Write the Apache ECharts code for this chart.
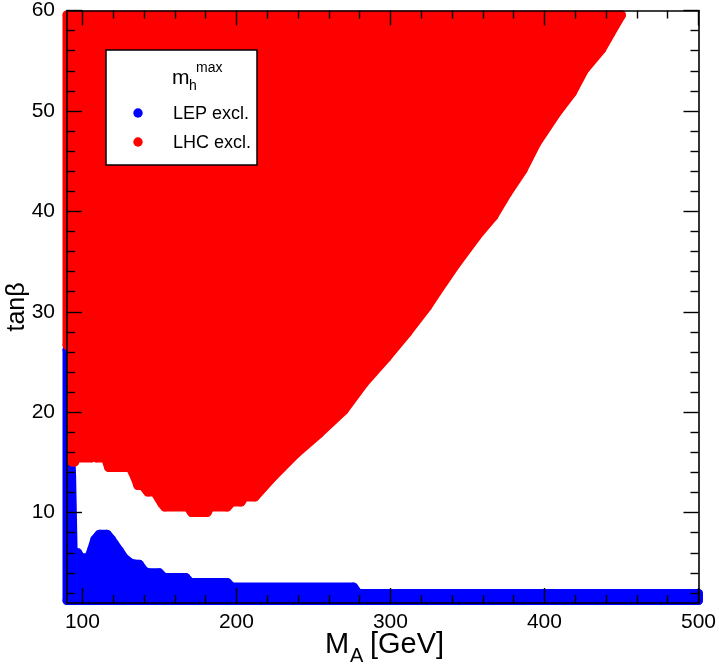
<!DOCTYPE html>
<html>
<head>
<meta charset="utf-8">
<script src="https://cdn.jsdelivr.net/npm/echarts@6/dist/echarts.min.js"></script>
<style>
  html, body { margin: 0; padding: 0; background: #fff; }
  #chart { width: 719px; height: 668px; }
</style>
</head>
<body>
<div id="chart"></div>
<script>
// LEP exclusion boundary (scan points on the edge, polygon order)
var lepX = [90, 90, 93, 94, 97, 99, 104, 106, 108, 111, 116, 119, 121, 124, 127, 131, 135, 137, 140, 143, 150, 153, 167, 170, 194, 197, 276, 279, 500, 500];
var lepY = [1.25, 26.2, 13.6, 6.0, 6.0, 5.5, 5.5, 6.3, 7.3, 7.85, 7.85, 7.3, 6.85, 6.2, 5.5, 5.0, 4.85, 4.85, 4.2, 4.0, 4.0, 3.55, 3.55, 3.05, 3.05, 2.6, 2.6, 1.95, 1.95, 1.25];

// LHC exclusion boundary (scan points on the edge, polygon order)
var lhcX = [90, 450, 443, 437, 426, 418, 408, 395, 386, 376, 367, 356, 343, 330, 324, 311, 298, 283, 270, 254, 239, 224, 212, 205, 203, 197, 194, 183, 181, 171, 168.5, 153.5, 151.6, 147, 142.5, 139, 136, 134, 131, 117, 115, 109, 107, 106, 96, 95, 93, 93, 90];
var lhcY = [59.55, 59.55, 57.7, 56.1, 54.1, 51.8, 49.8, 46.8, 44.1, 41.8, 39.5, 37.5, 34.8, 31.9, 30.5, 27.9, 25.5, 22.9, 20.2, 17.9, 15.9, 13.6, 11.55, 11.55, 11.05, 11.05, 10.55, 10.55, 10.0, 10.0, 10.55, 10.55, 10.9, 12.05, 12.05, 12.7, 12.7, 13.55, 14.5, 14.5, 15.45, 15.45, 15.9, 15.45, 15.45, 15.05, 15.05, 26.2, 26.7];

var xMajor = [100, 200, 300, 400, 500];
var xMinor = [120, 140, 160, 180, 220, 240, 260, 280, 320, 340, 360, 380, 420, 440, 460, 480];
var yMajor = [10, 20, 30, 40, 50, 60];
var yMinor = [2, 4, 6, 8, 12, 14, 16, 18, 22, 24, 26, 28, 32, 34, 36, 38, 42, 44, 46, 48, 52, 54, 56, 58];

var chart = echarts.init(document.getElementById('chart'));
var FONT = '"Liberation Sans", Arial, Helvetica, sans-serif';

function mkAxis(pos, min, max, ticks, len, labels, lineShow) {
  return {
    type: 'value', position: pos, min: min, max: max, z: 10,
    splitLine: { show: false },
    axisLine: { show: lineShow, onZero: false, lineStyle: { color: '#000', width: 1.6 } },
    axisTick: { show: true, inside: true, length: len, customValues: ticks, lineStyle: { color: '#000', width: 1.4 } },
    axisLabel: labels ? { show: true, customValues: ticks, color: '#000', fontSize: 21, fontFamily: FONT, margin: (pos === 'bottom' ? 9 : 12) } : { show: false }
  };
}

function polygonItem(xs, ys, color) {
  return function (params, api) {
    var pts = xs.map(function (x, i) { return api.coord([x, ys[i]]); });
    return {
      type: 'polygon',
      shape: { points: pts },
      style: { fill: color, stroke: color, lineWidth: 9, lineJoin: 'round' }
    };
  };
}

function dots(xs, ys) {
  return xs.map(function (x, i) { return [x, ys[i]]; });
}

function label(txt, x, y, size) {
  return { type: 'text', x: x, y: y, z: 21,
    style: { text: txt, font: size + 'px ' + FONT, fill: '#000', align: 'left', verticalAlign: 'middle' } };
}

chart.setOption({
  animation: false,
  backgroundColor: '#fff',
  grid: { left: 67, right: 20, top: 10, bottom: 65, containLabel: false },
  xAxis: [
    mkAxis('bottom', 90, 500, xMajor, 15, true, true),
    mkAxis('bottom', 90, 500, xMinor, 8, false, false),
    mkAxis('top', 90, 500, xMajor, 15, false, true),
    mkAxis('top', 90, 500, xMinor, 8, false, false)
  ],
  yAxis: [
    mkAxis('left', 1, 60, yMajor, 15, true, true),
    mkAxis('left', 1, 60, yMinor, 8, false, false),
    mkAxis('right', 1, 60, yMajor, 15, false, true),
    mkAxis('right', 1, 60, yMinor, 8, false, false)
  ],
  series: [
    {
      name: 'LEP excl.', type: 'custom', xAxisIndex: 0, yAxisIndex: 0, z: 2,
      renderItem: polygonItem(lepX, lepY, '#0000ff'),
      data: [[lepX[0], lepY[0]]]
    },
    {
      name: 'LEP excl. pts', type: 'scatter', xAxisIndex: 0, yAxisIndex: 0, z: 3,
      symbol: 'circle', symbolSize: 9, itemStyle: { color: '#0000ff' },
      data: dots(lepX, lepY)
    },
    {
      name: 'LHC excl.', type: 'custom', xAxisIndex: 0, yAxisIndex: 0, z: 4,
      renderItem: polygonItem(lhcX, lhcY, '#ff0000'),
      data: [[lhcX[0], lhcY[0]]]
    },
    {
      name: 'LHC excl. pts', type: 'scatter', xAxisIndex: 0, yAxisIndex: 0, z: 5,
      symbol: 'circle', symbolSize: 9, itemStyle: { color: '#ff0000' },
      data: dots(lhcX, lhcY)
    }
  ],
  graphic: [
    // y axis title
    { type: 'text', rotation: Math.PI / 2, x: 17, y: 307, z: 20,
      style: { text: 'tanβ', font: '25px ' + FONT, fill: '#000', align: 'center', verticalAlign: 'middle' } },
    // x axis title M_A [GeV]
    label('M', 325, 645, 29),
    label('A', 350, 656, 20),
    label('[GeV]', 370, 645, 29),
    // legend box
    { type: 'rect', z: 20, shape: { x: 106, y: 50, width: 151, height: 115 },
      style: { fill: '#fff', stroke: '#000', lineWidth: 1.5 } },
    label('m', 172, 78, 21),
    label('h', 189, 86, 14),
    label('max', 196, 68, 14),
    { type: 'circle', z: 21, shape: { cx: 138, cy: 113, r: 4.7 }, style: { fill: '#0000ff' } },
    label('LEP excl.', 173, 114, 18),
    { type: 'circle', z: 21, shape: { cx: 138, cy: 142, r: 4.7 }, style: { fill: '#ff0000' } },
    label('LHC excl.', 173, 143, 18)
  ]
});
</script>
</body>
</html>
